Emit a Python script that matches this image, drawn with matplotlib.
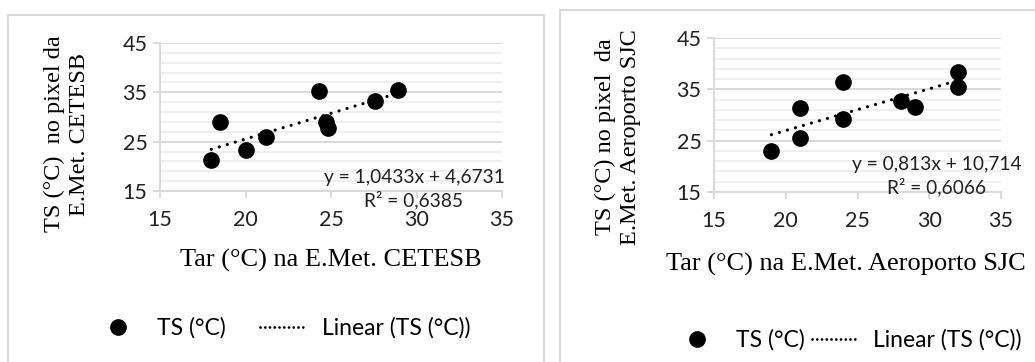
import matplotlib
matplotlib.use("Agg")
import matplotlib.pyplot as plt
from matplotlib.lines import Line2D
from matplotlib.patches import Rectangle
import numpy as np

# left chart: CETESB station
cet_tar = [18.0, 18.5, 20.0, 21.2, 24.3, 24.7, 24.8, 27.6, 28.9]
cet_ts = [21.3, 29.0, 23.4, 26.0, 35.3, 29.0, 27.8, 33.3, 35.5]
cet_fit = (1.0433, 4.6731)
cet_eq = ["y = 1,0433x + 4,6731", "R² = 0,6385"]

# right chart: SJC airport station
sjc_tar = [19, 21, 21, 24, 24, 28, 29, 32, 32]
sjc_ts = [23.0, 31.3, 25.6, 36.5, 29.2, 32.8, 31.6, 38.4, 35.4]
sjc_fit = (0.813, 10.714)
sjc_eq = ["y = 0,813x + 10,714", "R² = 0,6066"]

xticks = [15, 20, 25, 30, 35]
yticks = [15, 25, 35, 45]

sans = ["Lato", "DejaVu Sans"]
serif = ["Liberation Serif", "DejaVu Serif"]
grid_major = "#d9d9d9"
grid_minor = "#efefef"

W, H = 1035, 362
fig = plt.figure(figsize=(W / 100, H / 100), dpi=100)


def px(x0, y0, x1, y1):
    return [x0 / W, 1 - y1 / H, (x1 - x0) / W, (y1 - y0) / H]


def chart(rect, tar, ts, fit, eq, eq_pos, xlabel, xlab_pos, ylabel, ylab_pos,
          leg_pos, colspace):
    ax = fig.add_axes(rect)
    ax.set_xlim(15, 35)
    ax.set_ylim(15, 45)
    ax.set_xticks(xticks)
    ax.set_yticks(yticks)
    ax.set_yticks(np.arange(17, 45, 2), minor=True)
    ax.grid(axis="y", which="major", color=grid_major, lw=1.4, zorder=0)
    ax.grid(axis="y", which="minor", color=grid_minor, lw=1.4, zorder=0)
    ax.set_axisbelow(True)
    for s in ["top", "right"]:
        ax.spines[s].set_visible(False)
    for s in ["left", "bottom"]:
        ax.spines[s].set_color(grid_major)
        ax.spines[s].set_linewidth(1.4)
    ax.tick_params(which="major", length=5, width=1.4, color=grid_major,
                   labelsize=15.5, pad=4, labelcolor="#202020")
    ax.tick_params(which="minor", length=0)
    ax.tick_params(axis="x", pad=9)
    for lab in ax.get_xticklabels() + ax.get_yticklabels():
        lab.set_family(sans)

    pts, = ax.plot(tar, ts, "o", color="black", ms=11, zorder=3, clip_on=False)
    xs = np.array([min(tar), max(tar)])
    ax.plot(xs, fit[0] * xs + fit[1], color="black", lw=2.3,
            linestyle=(0, (0.01, 2.6)), dash_capstyle="round", zorder=2)
    trend_key = Line2D([], [], color="black", lw=2.0,
                       linestyle=(0, (0.01, 1.7)), dash_capstyle="round")

    fig.text(eq_pos[0], eq_pos[1], eq[0] + "\n" + eq[1],
             ha="center", va="center", fontsize=13.8, family=sans,
             linespacing=1.3, color="#202020")
    fig.text(xlab_pos[0], xlab_pos[1], xlabel,
             ha="center", va="center", fontsize=19, family=serif)
    fig.text(ylab_pos[0], ylab_pos[1], ylabel, rotation=90, ha="center",
             va="center", fontsize=17.5, family=serif, linespacing=1.2)

    fig.legend([pts, trend_key], ["TS (°C)", "Linear (TS (°C))"],
               loc="center left", bbox_to_anchor=leg_pos, ncol=2, frameon=False,
               prop={"family": sans, "size": 16.5}, handlelength=1.92,
               handletextpad=0.75, columnspacing=colspace, borderaxespad=0,
               borderpad=0)
    return ax


# chart frames
fig.add_artist(Rectangle((8 / W, -0.1), (544 - 8) / W, 1.1 - 15 / H,
                         transform=fig.transFigure, fill=False,
                         edgecolor=grid_major, lw=1.5, clip_on=False))
fig.add_artist(Rectangle((560 / W, -0.1), 1.0, 1.1 - 10 / H,
                         transform=fig.transFigure, fill=False,
                         edgecolor=grid_major, lw=1.5, clip_on=False))

chart(px(160, 43, 502, 191), cet_tar, cet_ts, cet_fit, cet_eq,
      (414 / W, 1 - 189 / H),
      "Tar (°C) na E.Met. CETESB", (331 / W, 1 - 260 / H),
      "TS (°C)  no pixel da\nE.Met. CETESB", (67 / W, 1 - 134 / H),
      (96 / W, 1 - 328 / H), 1.5)

chart(px(714, 38, 1001, 192), sjc_tar, sjc_ts, sjc_fit, sjc_eq,
      (937 / W, 1 - 176 / H),
      "Tar (°C) na E.Met. Aeroporto SJC", (846 / W, 1 - 264 / H),
      "TS (°C) no pixel  da\nE.Met. Aeroporto SJC", (618 / W, 1 - 137 / H),
      (675 / W, 1 - 340 / H), 0.3)

fig.savefig("out.png", dpi=100)
